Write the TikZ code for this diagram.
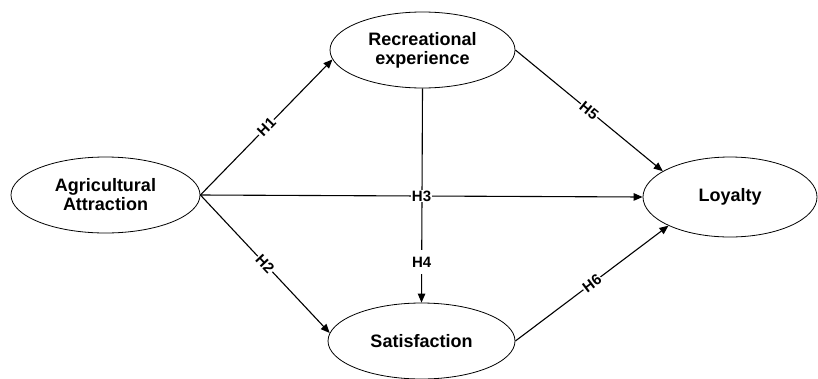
\documentclass[tikz,border=0pt]{standalone}
\usepackage{fontspec}
\setmainfont{Liberation Sans}
\usetikzlibrary{shapes.geometric,arrows.meta}
\begin{document}
\begin{tikzpicture}[x=1pt,y=-1pt,
  latent/.style={ellipse,draw,line width=0.8pt,inner sep=0pt,
    font=\bfseries\fontsize{18}{19}\selectfont,align=center},
  pathline/.style={line width=1.1pt,-{Triangle[length=9pt,width=7.5pt]}},
  hlab/.style={fill=white,inner sep=1pt,font=\bfseries\fontsize{15}{16}\selectfont}]
\useasboundingbox (0,0) rectangle (818,378);
\clip (0,0) rectangle (818,378);
\node[latent,minimum width=189pt,minimum height=76pt] (A) at (105.5,195) {Agricultural\\Attraction};
\node[latent,minimum width=185pt,minimum height=76pt] (R) at (422.5,50) {Recreational\\experience};
\node[latent,minimum width=187pt,minimum height=76pt] (S) at (421.5,341) {Satisfaction};
\node[latent,minimum width=174pt,minimum height=80pt] (L) at (730,197) {Loyalty};

\draw[pathline] (A.east) -- (R.186) node[hlab,sloped,midway] {H1};
\draw[pathline] (A.east) -- (S.175) node[hlab,sloped,midway] {H2};
\draw[pathline] (A.east) -- (L.west);
\draw[pathline] (R.south) -- (S.north) node[hlab,inner ysep=7pt,pos=0.81] {H4};
\path (A.east) -- (L.west) node[hlab,midway] {H3};
\draw[pathline] (R.east) -- (L.159.5) node[hlab,sloped,midway] {H5};
\draw[pathline] (S.east) -- (L.205.8) node[hlab,sloped,midway] {H6};
\end{tikzpicture}
\end{document}
